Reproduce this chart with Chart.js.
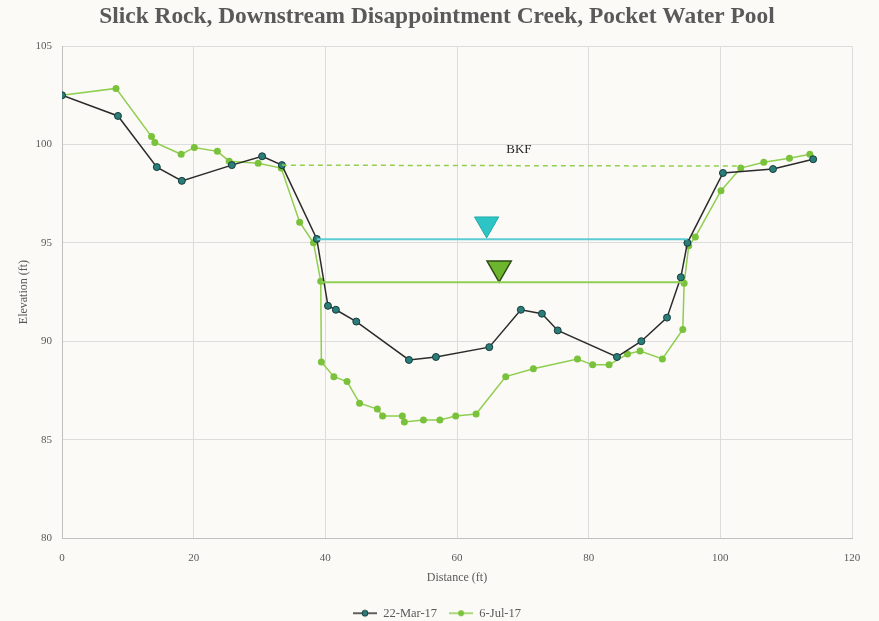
<!DOCTYPE html>
<html>
<head>
<meta charset="utf-8">
<script src="https://cdn.jsdelivr.net/npm/chart.js@4/dist/chart.umd.min.js"></script>
<style>
  body { margin: 0; background: #fbfaf6; }
  #xs { display: block; }
</style>
</head>
<body>
<canvas id="xs" width="879" height="621"></canvas>
<script>
// survey 22-Mar-17
var marDist = [0, 8.5, 14.4, 18.2, 25.8, 30.4, 33.4, 38.7, 40.4, 41.6, 44.7, 52.7, 56.8, 64.9, 69.7, 72.9, 75.3, 84.3, 88.0, 91.9, 94.0, 95.0, 100.4, 108.0, 114.1];
var marElev = [102.5, 101.45, 98.85, 98.15, 98.95, 99.4, 98.95, 95.2, 91.8, 91.6, 91.0, 89.05, 89.2, 89.7, 91.6, 91.4, 90.55, 89.2, 90.0, 91.2, 93.25, 95.0, 98.55, 98.75, 99.25];

// survey 6-Jul-17
var julDist = [0, 8.2, 13.6, 14.1, 18.1, 20.1, 23.6, 25.4, 29.8, 33.3, 36.1, 38.2, 39.3, 39.4, 41.3, 43.3, 45.2, 47.9, 48.7, 51.7, 52.0, 54.9, 57.4, 59.8, 62.9, 67.4, 71.6, 78.3, 80.6, 83.1, 85.9, 87.8, 91.2, 94.3, 94.5, 95.2, 96.2, 100.1, 103.1, 106.6, 110.5, 113.6];
var julElev = [102.5, 102.85, 100.4, 100.1, 99.5, 99.85, 99.65, 99.15, 99.05, 98.8, 96.05, 95.0, 93.05, 88.95, 88.2, 87.95, 86.85, 86.55, 86.2, 86.2, 85.9, 86.0, 86.0, 86.2, 86.3, 88.2, 88.6, 89.1, 88.8, 88.8, 89.35, 89.5, 89.1, 90.6, 92.95, 94.85, 95.3, 97.65, 98.8, 99.1, 99.3, 99.5];

// bankfull and water surfaces
var bkfDist = [33.4, 102.5];
var bkfElev = [98.95, 98.9];
var marWsDist = [38.7, 95.0];
var marWsElev = [95.18, 95.18];
var julWsDist = [39.3, 94.4];
var julWsElev = [93.0, 93.0];
var marMark = [64.5, 95.96];
var julMark = [66.4, 93.72];
var bkfLabel = [69.4, 99.72];

var xTicks = [0, 20, 40, 60, 80, 100, 120];
var yTicks = [80, 85, 90, 95, 100, 105];

var serif = "'Liberation Serif', 'DejaVu Serif', serif";
var grey = '#595959';

function pts(xs, ys) {
    return xs.map(function(x, i) { return { x: x, y: ys[i] }; });
}

function legendIcon(line, fill, stroke) {
    var c = document.createElement('canvas');
    c.width = 24; c.height = 10;
    var g = c.getContext('2d');
    g.strokeStyle = line; g.lineWidth = 1.5;
    g.beginPath(); g.moveTo(0, 5); g.lineTo(24, 5); g.stroke();
    g.fillStyle = fill;
    g.beginPath(); g.arc(12, 5, 3, 0, Math.PI * 2); g.fill();
    if (stroke) { g.strokeStyle = stroke; g.lineWidth = 1; g.stroke(); }
    return c;
}

var icons = {
    '22-Mar-17': legendIcon('#2b2b2b', '#2a7d78', '#173b3a'),
    '6-Jul-17': legendIcon('#8fce4f', '#7bc23c')
};

var bkfText = {
    id: 'bkfText',
    afterDatasetsDraw: function(chart) {
        var ctx = chart.ctx;
        var x = chart.scales.x.getPixelForValue(bkfLabel[0]);
        var y = chart.scales.y.getPixelForValue(bkfLabel[1]);
        ctx.save();
        ctx.font = '13px ' + serif;
        ctx.fillStyle = '#262626';
        ctx.textAlign = 'center';
        ctx.textBaseline = 'middle';
        ctx.fillText('BKF', x, y);
        ctx.restore();
    }
};

var ctx = document.getElementById('xs').getContext('2d');
var chart = new Chart(ctx, {
    type: 'scatter',
    data: {
        datasets: [{
            label: 'BKF',
            data: pts(bkfDist, bkfElev),
            showLine: true,
            borderColor: '#92d050',
            borderWidth: 1.5,
            borderDash: [5, 4],
            pointRadius: 0
        }, {
            label: 'WS Mar',
            data: pts(marWsDist, marWsElev),
            showLine: true,
            borderColor: '#5ccbd3',
            borderWidth: 2,
            pointRadius: 0
        }, {
            label: 'WS Jul',
            data: pts(julWsDist, julWsElev),
            showLine: true,
            borderColor: '#8fcf55',
            borderWidth: 2,
            pointRadius: 0
        }, {
            label: 'Mark Mar',
            data: [{ x: marMark[0], y: marMark[1] }],
            pointStyle: 'triangle',
            rotation: 180,
            pointRadius: 14,
            backgroundColor: '#2cc4c4',
            borderColor: '#23a9ab',
            borderWidth: 1
        }, {
            label: 'Mark Jul',
            data: [{ x: julMark[0], y: julMark[1] }],
            pointStyle: 'triangle',
            rotation: 180,
            pointRadius: 14,
            backgroundColor: '#6cb52d',
            borderColor: '#2d4a14',
            borderWidth: 1.5
        }, {
            label: '22-Mar-17',
            data: pts(marDist, marElev),
            showLine: true,
            borderColor: '#2b2b2b',
            borderWidth: 1.5,
            pointStyle: 'circle',
            pointRadius: 3.5,
            pointBackgroundColor: '#2a7d78',
            pointBorderColor: '#173b3a',
            pointBorderWidth: 1
        }, {
            label: '6-Jul-17',
            data: pts(julDist, julElev),
            showLine: true,
            borderColor: '#8fce4f',
            borderWidth: 1.5,
            pointStyle: 'circle',
            pointRadius: 3.5,
            pointBackgroundColor: '#7bc23c',
            pointBorderColor: '#7bc23c',
            pointBorderWidth: 0
        }]
    },
    options: {
        responsive: false,
        animation: false,
        layout: { padding: { left: 11, right: 16, top: 0, bottom: 0 } },
        elements: { line: { tension: 0 } },
        plugins: {
            title: {
                display: true,
                text: 'Slick Rock, Downstream Disappointment Creek, Pocket Water Pool',
                color: grey,
                font: { family: serif, size: 23.4, weight: 'bold' },
                padding: { top: 3, bottom: 15 }
            },
            legend: {
                position: 'bottom',
                maxHeight: 26,
                labels: {
                    color: grey,
                    font: { family: serif, size: 12.5 },
                    usePointStyle: true,
                    pointStyleWidth: 24,
                    boxHeight: 10,
                    padding: 12,
                    generateLabels: function(chart) {
                        var items = Chart.defaults.plugins.legend.labels.generateLabels(chart);
                        items.forEach(function(it) { if (icons[it.text]) it.pointStyle = icons[it.text]; });
                        return items;
                    },
                    filter: function(item) {
                        return item.text === '22-Mar-17' || item.text === '6-Jul-17';
                    }
                }
            },
            tooltip: { enabled: false }
        },
        scales: {
            x: {
                type: 'linear',
                min: 0, max: 120,
                afterBuildTicks: function(s) { s.ticks = xTicks.map(function(v) { return { value: v }; }); },
                afterFit: function(s) { s.height = 57; s.paddingRight = 27; },
                grid: { color: '#dcdcdc', drawTicks: false },
                border: { color: '#bfbfbf' },
                ticks: { color: grey, font: { family: serif, size: 11 }, padding: 14 },
                title: { display: true, text: 'Distance (ft)', color: grey, font: { family: serif, size: 12 }, padding: { top: 4, bottom: 10 } }
            },
            y: {
                min: 80, max: 105,
                afterBuildTicks: function(s) { s.ticks = yTicks.map(function(v) { return { value: v }; }); },
                afterFit: function(s) { s.width = 51; },
                grid: { color: '#dcdcdc', drawTicks: false },
                border: { color: '#bfbfbf' },
                ticks: { color: grey, font: { family: serif, size: 11 }, padding: 10 },
                title: { display: true, text: 'Elevation (ft)', color: grey, font: { family: serif, size: 12 }, padding: { top: 6, bottom: 6 } }
            }
        }
    },
    plugins: [bkfText]
});
</script>
</body>
</html>
